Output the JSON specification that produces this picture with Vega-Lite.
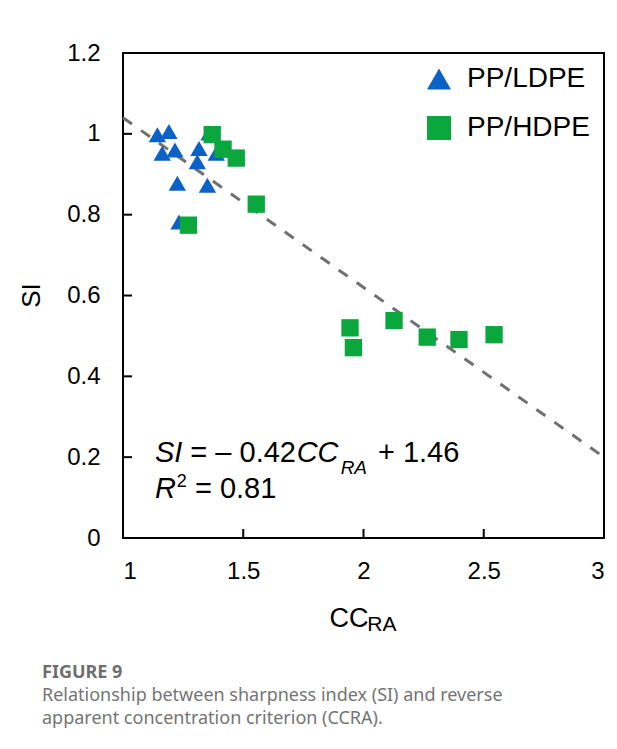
{
  "$schema": "https://vega.github.io/schema/vega-lite/v6.json",
  "width": 481,
  "height": 485,
  "autosize": {"type": "none"},
  "padding": {"left": 123, "top": 53, "right": 13, "bottom": 211},
  "background": "white",
  "config": {
    "font": "Liberation Sans",
    "view": {"stroke": "black", "strokeWidth": 2},
    "axis": {
      "grid": false,
      "domain": false,
      "ticks": false,
      "labelFont": "Liberation Sans",
      "labelFontSize": 24,
      "labelColor": "black",
      "titleFont": "Liberation Sans",
      "titleFontWeight": "normal",
      "titleColor": "black"
    }
  },
  "title": {
    "text": "FIGURE 9",
    "subtitle": ["Relationship between sharpness index (SI) and reverse", "apparent concentration criterion (CCRA)."],
    "orient": "bottom",
    "anchor": "start",
    "frame": "group",
    "dx": -81,
    "offset": 29,
    "font": "Noto Sans",
    "fontSize": 18,
    "fontWeight": "bold",
    "color": "#6e6e6e",
    "subtitleFont": "Noto Sans",
    "subtitleFontSize": 18,
    "subtitleColor": "#747474",
    "subtitleLineHeight": 23,
    "subtitlePadding": 5
  },
  "layer": [
    {
      "data": {"values": [{"tick": 1.5}, {"tick": 2}, {"tick": 2.5}]},
      "mark": {"type": "rule", "color": "black", "strokeWidth": 2},
      "encoding": {
        "x": {"field": "tick", "type": "quantitative", "scale": {"domain": [1, 3]}},
        "y": {"datum": 0, "type": "quantitative"},
        "y2": {"datum": 0.0223}
      }
    },
    {
      "data": {"values": [{"tick": 0.2}, {"tick": 0.4}, {"tick": 0.6}, {"tick": 0.8}, {"tick": 1.0}]},
      "mark": {"type": "rule", "color": "black", "strokeWidth": 2},
      "encoding": {
        "y": {"field": "tick", "type": "quantitative", "scale": {"domain": [0, 1.2]}},
        "x": {"datum": 1, "type": "quantitative"},
        "x2": {"datum": 1.0374}
      }
    },
    {
      "data": {"values": [{"cc": 1, "si": 1.04}, {"cc": 3, "si": 0.2}]},
      "mark": {"type": "line", "color": "#707070", "strokeWidth": 3, "strokeDash": [11, 11]},
      "encoding": {
        "x": {"field": "cc", "type": "quantitative", "scale": {"domain": [1, 3]}},
        "y": {"field": "si", "type": "quantitative", "scale": {"domain": [0, 1.2]}}
      }
    },
    {
      "data": {
        "values": [
          {"polymer": "PP/LDPE", "cc": 1.143, "si": 0.998},
          {"polymer": "PP/LDPE", "cc": 1.191, "si": 1.006},
          {"polymer": "PP/LDPE", "cc": 1.163, "si": 0.952},
          {"polymer": "PP/LDPE", "cc": 1.216, "si": 0.96},
          {"polymer": "PP/LDPE", "cc": 1.226, "si": 0.878},
          {"polymer": "PP/LDPE", "cc": 1.316, "si": 0.964},
          {"polymer": "PP/LDPE", "cc": 1.309, "si": 0.931},
          {"polymer": "PP/LDPE", "cc": 1.351, "si": 0.873},
          {"polymer": "PP/LDPE", "cc": 1.358, "si": 1.002},
          {"polymer": "PP/LDPE", "cc": 1.388, "si": 0.952},
          {"polymer": "PP/LDPE", "cc": 1.233, "si": 0.782},
          {"polymer": "PP/HDPE", "cc": 1.371, "si": 0.998},
          {"polymer": "PP/HDPE", "cc": 1.416, "si": 0.962},
          {"polymer": "PP/HDPE", "cc": 1.471, "si": 0.94},
          {"polymer": "PP/HDPE", "cc": 1.554, "si": 0.826},
          {"polymer": "PP/HDPE", "cc": 1.272, "si": 0.774},
          {"polymer": "PP/HDPE", "cc": 1.944, "si": 0.52},
          {"polymer": "PP/HDPE", "cc": 1.958, "si": 0.471},
          {"polymer": "PP/HDPE", "cc": 2.127, "si": 0.538},
          {"polymer": "PP/HDPE", "cc": 2.265, "si": 0.497},
          {"polymer": "PP/HDPE", "cc": 2.397, "si": 0.491},
          {"polymer": "PP/HDPE", "cc": 2.543, "si": 0.503}
        ]
      },
      "mark": {"type": "point", "filled": true, "opacity": 1, "size": 300},
      "encoding": {
        "x": {
          "field": "cc", "type": "quantitative",
          "scale": {"domain": [1, 3]},
          "axis": {
            "values": [1, 1.5, 2, 2.5, 3], "format": "~g", "labelPadding": 21,
            "title": "CC", "titleFontSize": 27, "titleX": 206, "titleY": 88.5,
            "titleAlign": "left", "titleBaseline": "alphabetic"
          }
        },
        "y": {
          "field": "si", "type": "quantitative",
          "scale": {"domain": [0, 1.2]},
          "axis": {
            "values": [0, 0.2, 0.4, 0.6, 0.8, 1, 1.2], "format": "~g", "labelPadding": 23,
            "title": "SI", "titleFontSize": 26, "titleX": -92, "titleY": 242,
            "titleAngle": -90, "titleAlign": "center", "titleBaseline": "middle"
          }
        },
        "color": {
          "field": "polymer", "type": "nominal",
          "scale": {"domain": ["PP/LDPE", "PP/HDPE"], "range": ["#0b62c6", "#0aa83c"]},
          "legend": {
            "title": null, "orient": "none", "legendX": 302, "legendY": 12,
            "symbolSize": 576, "symbolStrokeWidth": 0, "labelFontSize": 28,
            "labelFont": "Liberation Sans", "labelColor": "black", "labelOffset": 14,
            "rowPadding": 21, "padding": 0
          }
        },
        "shape": {
          "field": "polymer", "type": "nominal",
          "scale": {"domain": ["PP/LDPE", "PP/HDPE"], "range": ["triangle-up", "square"]}
        }
      }
    },
    {
      "data": {"values": [{}]},
      "mark": {"type": "text", "text": "SI", "fontStyle": "italic", "fontSize": 29, "align": "left", "baseline": "alphabetic"},
      "encoding": {"x": {"datum": 1.133, "type": "quantitative"}, "y": {"datum": 0.189, "type": "quantitative"}}
    },
    {
      "data": {"values": [{}]},
      "mark": {"type": "text", "text": "= – 0.42", "fontSize": 29, "align": "left", "baseline": "alphabetic"},
      "encoding": {"x": {"datum": 1.28, "type": "quantitative"}, "y": {"datum": 0.189, "type": "quantitative"}}
    },
    {
      "data": {"values": [{}]},
      "mark": {"type": "text", "text": "CC", "fontStyle": "italic", "fontSize": 29, "align": "left", "baseline": "alphabetic"},
      "encoding": {"x": {"datum": 1.722, "type": "quantitative"}, "y": {"datum": 0.189, "type": "quantitative"}}
    },
    {
      "data": {"values": [{}]},
      "mark": {"type": "text", "text": "RA", "fontStyle": "italic", "fontSize": 19, "align": "left", "baseline": "alphabetic"},
      "encoding": {"x": {"datum": 1.905, "type": "quantitative"}, "y": {"datum": 0.158, "type": "quantitative"}}
    },
    {
      "data": {"values": [{}]},
      "mark": {"type": "text", "text": "+ 1.46", "fontSize": 29, "align": "left", "baseline": "alphabetic"},
      "encoding": {"x": {"datum": 2.06, "type": "quantitative"}, "y": {"datum": 0.189, "type": "quantitative"}}
    },
    {
      "data": {"values": [{}]},
      "mark": {"type": "text", "text": "R", "fontStyle": "italic", "fontSize": 29, "align": "left", "baseline": "alphabetic"},
      "encoding": {"x": {"datum": 1.133, "type": "quantitative"}, "y": {"datum": 0.099, "type": "quantitative"}}
    },
    {
      "data": {"values": [{}]},
      "mark": {"type": "text", "text": "2", "fontSize": 18, "align": "left", "baseline": "alphabetic"},
      "encoding": {"x": {"datum": 1.224, "type": "quantitative"}, "y": {"datum": 0.126, "type": "quantitative"}}
    },
    {
      "data": {"values": [{}]},
      "mark": {"type": "text", "text": "= 0.81", "fontSize": 29, "align": "left", "baseline": "alphabetic"},
      "encoding": {"x": {"datum": 1.299, "type": "quantitative"}, "y": {"datum": 0.099, "type": "quantitative"}}
    },
    {
      "data": {"values": [{}]},
      "mark": {"type": "text", "text": "RA", "fontSize": 21, "align": "left", "baseline": "alphabetic"},
      "encoding": {"x": {"datum": 2.016, "type": "quantitative"}, "y": {"datum": -0.23, "type": "quantitative"}}
    }
  ]
}
